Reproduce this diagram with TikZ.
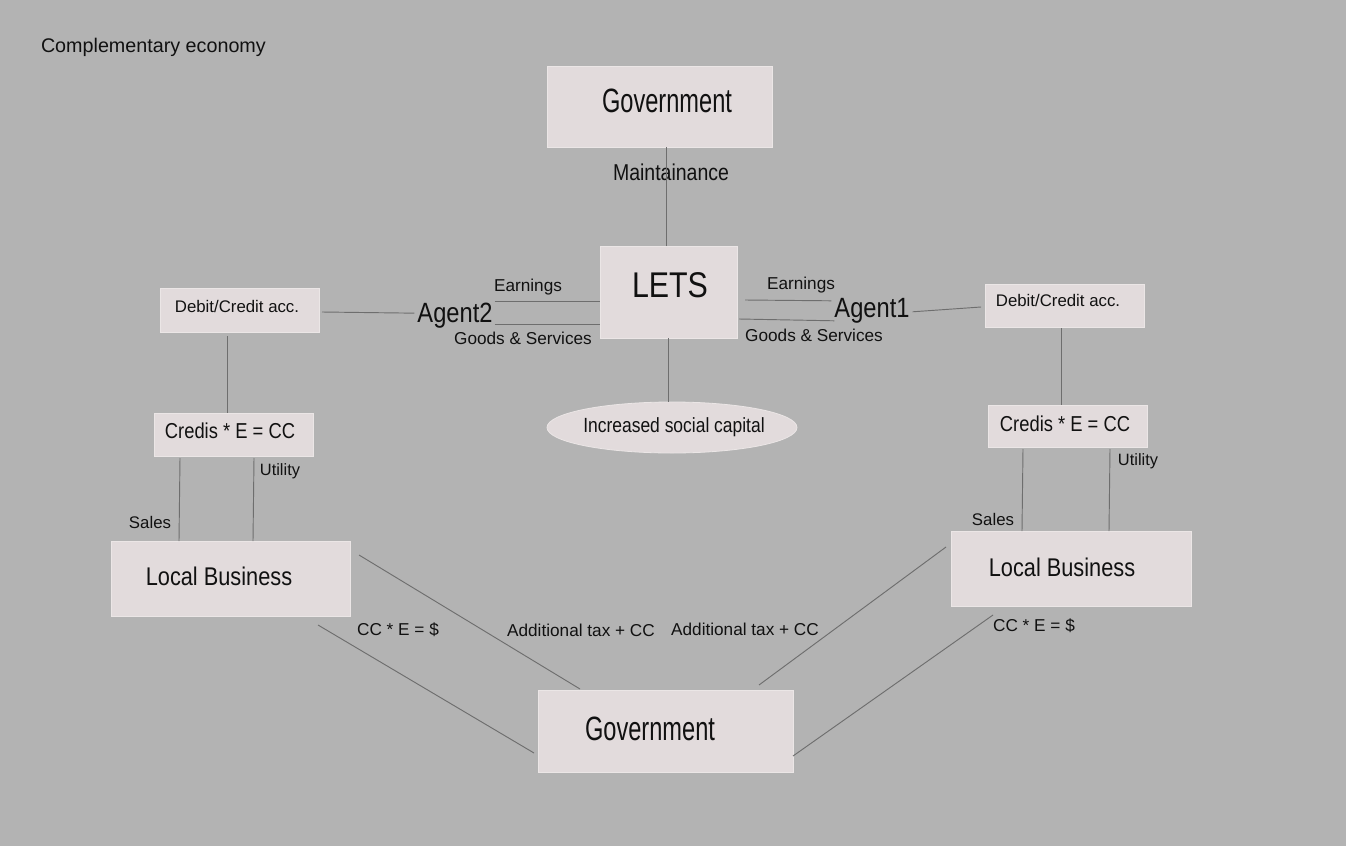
\documentclass[tikz,border=0pt]{standalone}
\usepackage{fontspec}
\setmainfont{Liberation Sans}
\newfontfamily\narrowf{Liberation Sans}[FakeStretch=0.85]
\newfontfamily\govf{Liberation Sans}[FakeStretch=0.7]
\usetikzlibrary{shapes.geometric,calc}
\definecolor{bg}{HTML}{B3B3B3}
\definecolor{boxfill}{HTML}{E2DBDC}
\definecolor{boxline}{HTML}{EBE6E6}
\definecolor{conn}{HTML}{6E6E6E}
\definecolor{ink}{HTML}{111111}
\tikzset{
  box/.style={rectangle,fill=boxfill,draw=boxline,line width=0.6pt,inner sep=0pt,outer sep=0pt},
  oval/.style={ellipse,fill=boxfill,draw=boxline,line width=0.6pt,inner sep=0pt,outer sep=0pt},
  txt/.style={inner sep=0pt,outer sep=0pt,anchor=base,text=ink},
  small/.style={txt,font=\fontsize{12.9}{15}\selectfont},
  conn/.style={draw=conn,line width=0.7pt}
}
\begin{document}
\begin{tikzpicture}[x=0.75pt,y=-0.75pt]
\fill[bg] (0,0) rectangle (1346,846);
\useasboundingbox (0,0) rectangle (1346,846);

% boxes
\node[box,minimum width=168.75pt,minimum height=60.75pt] (govT) at (659.5,106.5) {};
\node[box,minimum width=102.75pt,minimum height=69pt] (LETS) at (668.5,292) {};
\node[oval,minimum width=187.5pt,minimum height=38.25pt] (ell) at (672,427.5) {};
\node[box,minimum width=119.25pt,minimum height=33pt] (DebitL) at (239.5,310) {};
\node[box,minimum width=119.25pt,minimum height=32.25pt] (DebitR) at (1064.5,305.5) {};
\node[box,minimum width=119.25pt,minimum height=32.25pt] (CredisL) at (233.5,434.5) {};
\node[box,minimum width=119.25pt,minimum height=31.5pt] (CredisR) at (1067.5,426) {};
\node[box,minimum width=179.25pt,minimum height=56.25pt] (LBL) at (230.5,578.5) {};
\node[box,minimum width=180pt,minimum height=56.25pt] (LBR) at (1071,568.5) {};
\node[box,minimum width=191.25pt,minimum height=61.5pt] (govB) at (665.5,731) {};

% texts
\node[txt,anchor=base west,font=\fontsize{14.8}{17}\selectfont] (title) at (41,52) {Complementary economy};
\node[txt,font=\govf\fontsize{25.3}{30}\selectfont] (govTt) at (667,112.7) {Government};
\node[txt,font=\narrowf\fontsize{17.2}{20}\selectfont] (maint) at (671,180) {Maintainance};
\node[txt,font=\narrowf\fontsize{26.8}{30}\selectfont] (letsT) at (670,297.4) {LETS};
\node[txt,font=\narrowf\fontsize{15.4}{18}\selectfont] (ellT) at (674,432) {Increased social capital};
\node[txt,font=\narrowf\fontsize{20.9}{24}\selectfont] (agent2) at (455,322) {Agent2};
\node[txt,font=\narrowf\fontsize{20.9}{24}\selectfont] (agent1) at (872,317) {Agent1};
\node[small] (earnL) at (528,291.4) {Earnings};
\node[small] (earnR) at (801,289) {Earnings};
\node[small] (goodsL) at (523,344.4) {Goods \& Services};
\node[small] (goodsR) at (814,341.6) {Goods \& Services};
\node[txt,font=\fontsize{12.6}{15}\selectfont] (debitLt) at (237,312.3) {Debit/Credit acc.};
\node[txt,font=\fontsize{12.6}{15}\selectfont] (debitRt) at (1058,306) {Debit/Credit acc.};
\node[txt,font=\narrowf\fontsize{16.2}{19}\selectfont] (credisLt) at (230,438.3) {Credis * E = CC};
\node[txt,font=\narrowf\fontsize{16.2}{19}\selectfont] (credisRt) at (1065,431.7) {Credis * E = CC};
\node[txt,font=\fontsize{12.6}{15}\selectfont] (salesL) at (150,528.3) {Sales};
\node[txt,font=\fontsize{12.3}{15}\selectfont] (utilL) at (280,475) {Utility};
\node[txt,font=\fontsize{12.6}{15}\selectfont] (salesR) at (993,525) {Sales};
\node[txt,font=\fontsize{12.3}{15}\selectfont] (utilR) at (1138,465) {Utility};
\node[txt,font=\narrowf\fontsize{19.2}{22}\selectfont] (LBLt) at (219,585.7) {Local Business};
\node[txt,font=\narrowf\fontsize{19.2}{22}\selectfont] (LBRt) at (1062,576) {Local Business};
\node[small] (ccL) at (398,635.5) {CC * E = \$};
\node[small] (addL) at (581,636.5) {Additional tax + CC};
\node[small] (addR) at (745,635) {Additional tax + CC};
\node[small] (ccR) at (1034,631.7) {CC * E = \$};
\node[txt,font=\govf\fontsize{25.3}{30}\selectfont] (govBt) at (650,740.7) {Government};

% helper coordinates for connector ends
\coordinate (gl) at ($(LETS.north)+(-2,0)$);
\coordinate (a2u) at ($(agent2.east)+(2,-14)$);
\coordinate (a2d) at ($(agent2.east)+(2,9)$);
\coordinate (dl) at ($(DebitL.south)+(-12.5,4)$);
\coordinate (dr) at ($(DebitR.south)+(-3.5,1)$);
\coordinate (sl) at ($(CredisL.south)+(-53.5,2)$);
\coordinate (ul) at ($(CredisL.south)+(20.5,2)$);
\coordinate (sr) at ($(CredisR.south)+(-44.5,2)$);
\coordinate (ur) at ($(CredisR.south)+(42.5,2)$);

% connectors
\draw[conn] (gl) -- (gl |- govT.south);
\draw[conn] (LETS.south) -- (LETS.south |- ell.north);
\draw[conn] ($(DebitL.east)+(3,2)$) -- ($(agent2.west)+(-3,-2)$);
\draw[conn] (a2u) -- (a2u -| LETS.west);
\draw[conn] (a2d) -- (a2d -| LETS.west);
\draw[conn] ($(LETS.east)+(8,8)$) -- ($(agent1.west)+(-3,-9.5)$);
\draw[conn] ($(LETS.east)+(2,27)$) -- ($(agent1.west)+(0,10.5)$);
\draw[conn] ($(agent1.east)+(3,1.5)$) -- ($(DebitR.west)+(-4,1.5)$);
\draw[conn] (dl) -- (dl |- CredisL.north);
\draw[conn] (dr) -- (dr |- CredisR.north);
\draw[conn] (sl) -- ($(sl |- LBL.north)+(-1,0)$);
\draw[conn] (ul) -- ($(ul |- LBL.north)+(-1,0)$);
\draw[conn] (sr) -- ($(sr |- LBR.north)+(-1,0)$);
\draw[conn] (ur) -- ($(ur |- LBR.north)+(-1,0)$);
\draw[conn] ($(LBL.east)+(9,-23.5)$) -- ($(govB.north)+(-85.5,-1)$);
\draw[conn] ($(LBL.south east)+(-32,9)$) -- ($(govB.west)+(-4,22)$);
\draw[conn] ($(LBR.west)+(-5,-21.5)$) -- ($(govB.north)+(93.5,-5)$);
\draw[conn] ($(LBR.south)+(-78,9)$) -- ($(govB.east)+(0,25)$);
\end{tikzpicture}
\end{document}
